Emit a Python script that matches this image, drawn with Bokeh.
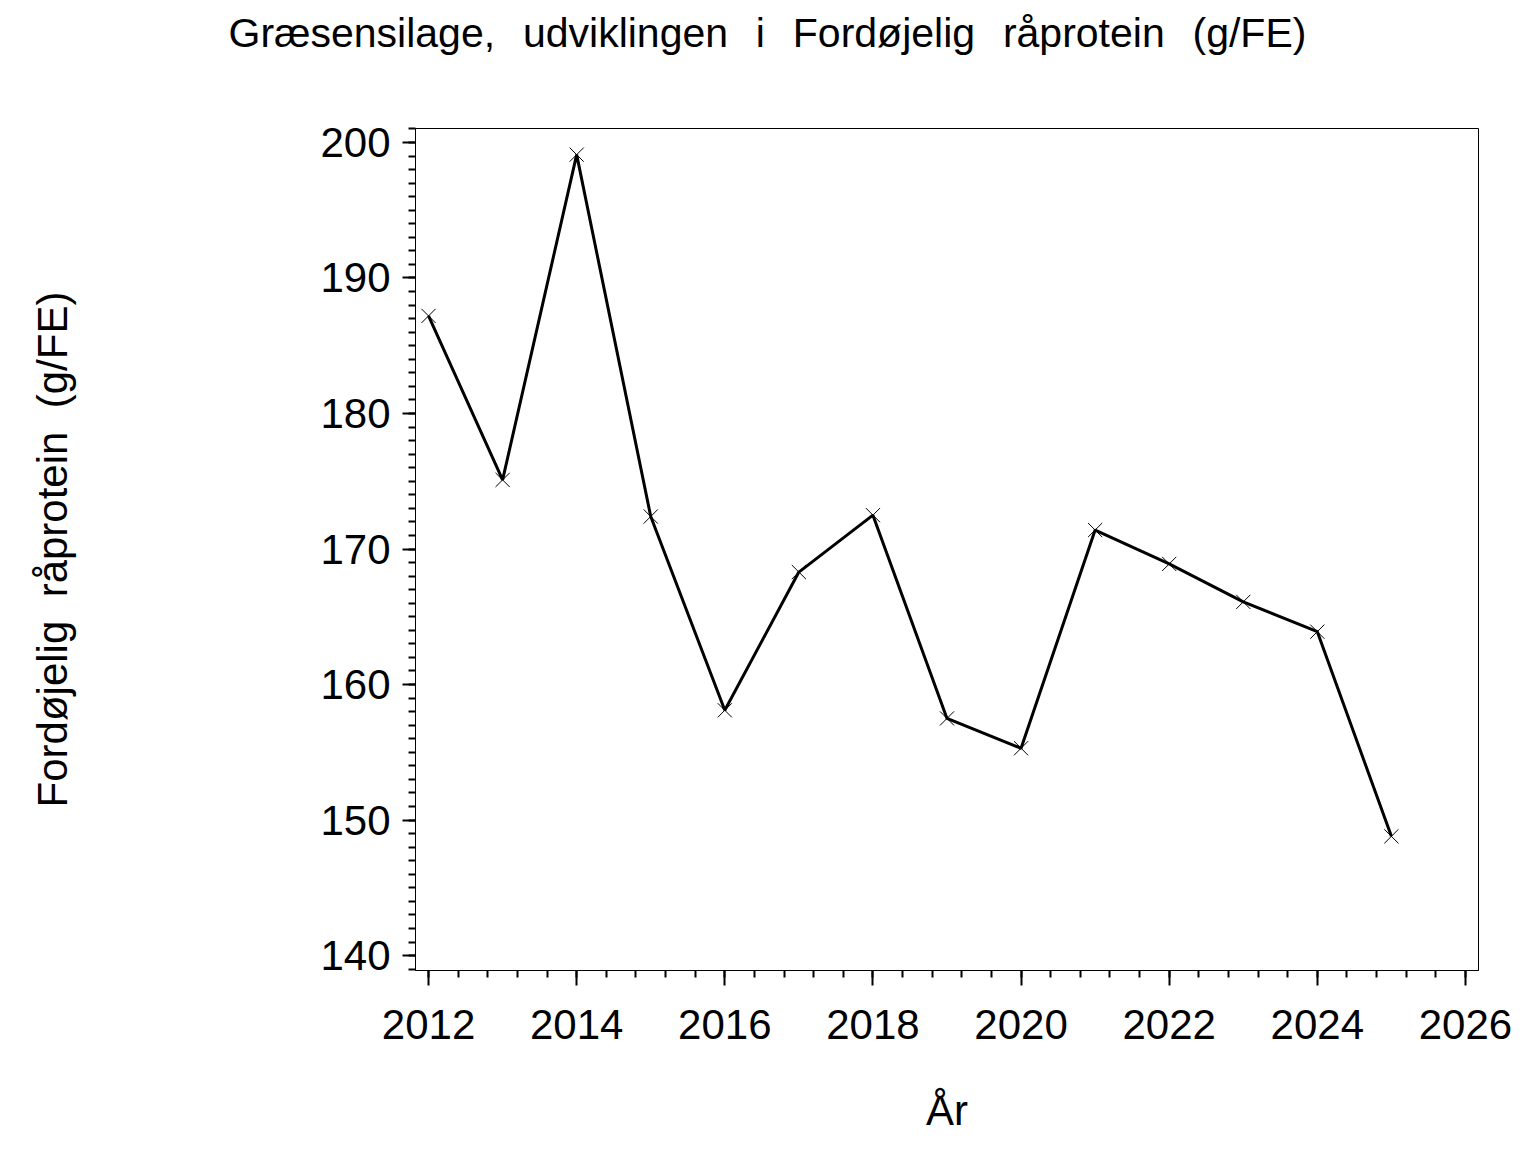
from bokeh.plotting import figure
from bokeh.models import Range1d, SingleIntervalTicker, Title
from bokeh.embed import file_html
from bokeh.resources import INLINE

years = [2012, 2013, 2014, 2015, 2016, 2017, 2018, 2019, 2020, 2021, 2022, 2023, 2024, 2025]
values = [187.2, 175.1, 199.1, 172.4, 158.1, 168.3, 172.5, 157.5, 155.3, 171.4, 168.9, 166.1, 163.9, 148.8]

TITLE_GAP = " \u2009\u2009"
GAP2 = "\u00a0\u00a0"
title_words = ["Græsensilage,", "udviklingen", "i", "Fordøjelig", "råprotein", "(g/FE)"]
y_label_words = ["Fordøjelig", "råprotein", "(g/FE)"]
title_text = TITLE_GAP.join(title_words)
x_label = "År"
y_label = GAP2.join(y_label_words)
FONT = "Liberation Sans"

p = figure(width=1520, height=1148, output_backend="svg", toolbar_location=None,
           x_range=Range1d(2011.824, 2026.176), y_range=Range1d(138.9, 201.03),
           min_border_left=415, min_border_right=42, min_border_top=128, min_border_bottom=178)
p.background_fill_color = "white"
p.border_fill_color = "white"
p.outline_line_color = "black"
p.outline_line_width = 1
p.xgrid.visible = False
p.ygrid.visible = False

p.xaxis.ticker = SingleIntervalTicker(interval=2, num_minor_ticks=5)
p.yaxis.ticker = SingleIntervalTicker(interval=10, num_minor_ticks=10)

for ax in (p.xaxis[0], p.yaxis[0]):
    ax.axis_line_color = "black"
    ax.axis_line_width = 1
    ax.major_tick_in = 0
    ax.minor_tick_in = 0
    ax.major_tick_line_width = 2
    ax.minor_tick_line_width = 2
    ax.minor_tick_out = 7
    ax.major_label_text_font = FONT
    ax.major_label_text_font_size = "42px"
    ax.major_label_text_color = "black"
    ax.axis_label_text_font = FONT
    ax.axis_label_text_font_size = "42px"
    ax.axis_label_text_font_style = "normal"
    ax.axis_label_text_color = "black"

p.xaxis.major_tick_out = 15
p.yaxis.major_tick_out = 13
p.xaxis.major_label_standoff = 24
p.yaxis.major_label_standoff = 12
p.xaxis.axis_label = x_label
p.yaxis.axis_label = y_label
p.xaxis.axis_label_standoff = 45
p.yaxis.axis_label_standoff = 241

p.line(years, values, line_color="black", line_width=3)
p.scatter(years, values, marker="x", size=20, line_color="black", line_width=1)

spacer = Title(text=" ", text_font_size="1px", standoff=64)
p.add_layout(spacer, "above")
title = Title(text=title_text, align="left", offset=-187,
              text_font=FONT, text_font_size="41px", text_color="black",
              text_font_style="normal", standoff=12)
p.add_layout(title, "above")

open("out.html", "w").write(file_html(p, INLINE))
